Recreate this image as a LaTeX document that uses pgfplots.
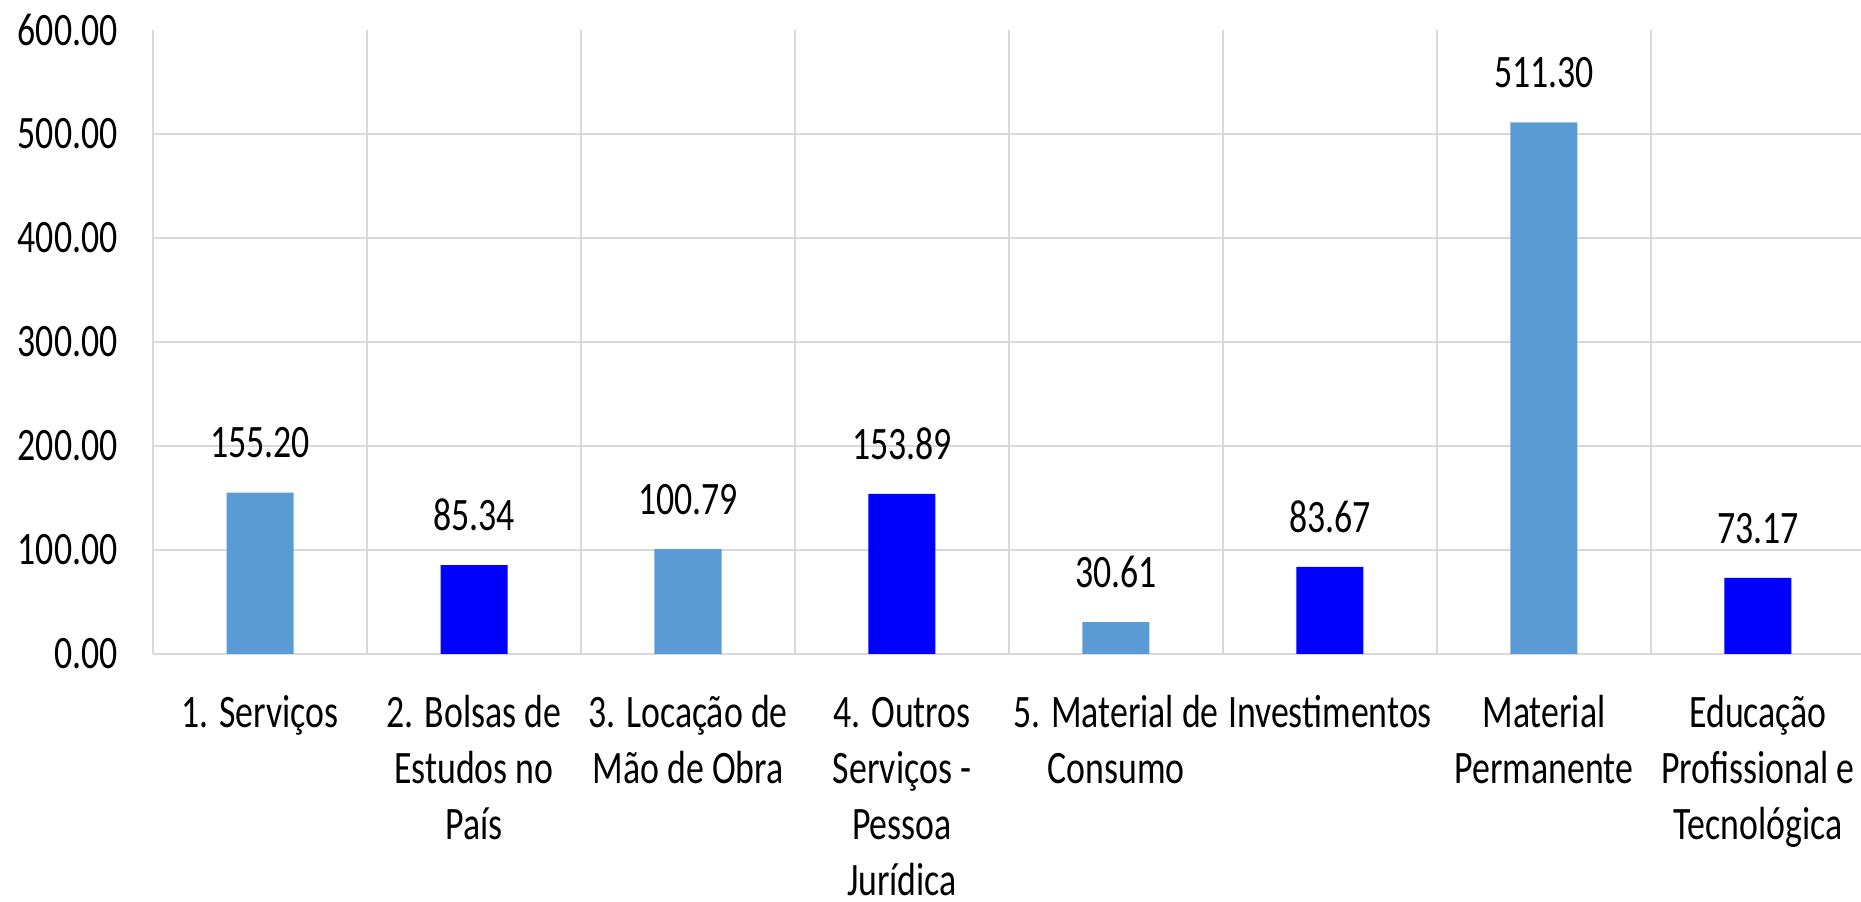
\documentclass[border=0pt]{standalone}
\usepackage{fontspec}
\setmainfont{Carlito}[FakeStretch=0.77]
\usepackage{pgfplots}
\pgfplotsset{compat=1.18}
\definecolor{lblue}{HTML}{5B9BD5}
\definecolor{dblue}{HTML}{0000FF}
\definecolor{gridc}{HTML}{D9D9D9}
\newcommand{\lblfont}{\fontsize{18.6}{22.4}\selectfont}
\begin{document}
\begin{tikzpicture}
\path[use as bounding box] (0,0) rectangle (744.4pt,360.8pt);
\begin{axis}[
    at={(61.2pt,99.2pt)}, anchor=south west,
    scale only axis, width=684.8pt, height=249.6pt,
    ybar, bar width=26.8pt, bar shift=0pt,
    xmin=0.5, xmax=8.5, ymin=0, ymax=600,
    clip=false,
    axis line style={draw=none},
    major tick length=0pt, minor tick length=0pt,
    xtick={1,...,8},
    minor xtick={0.5,1.5,...,8.5},
    xminorgrids, ymajorgrids,
    grid style={gridc, line width=0.8pt},
    minor grid style={gridc, line width=0.8pt},
    ytick={0,100,...,500},
    extra y ticks={600}, extra y tick style={grid=none},
    /pgf/number format/assume math mode=true,
    yticklabel style={font=\lblfont, anchor=east, inner sep=0pt, xshift=-14pt,
        /pgf/number format/fixed, /pgf/number format/fixed zerofill,
        /pgf/number format/precision=2},
    xticklabel style={font=\lblfont, anchor=north, inner sep=0pt, yshift=-13.5pt, align=center},
    xticklabels={
        \strut 1. Serviços,
        \strut 2. Bolsas de\\Estudos no\\País,
        \strut 3. Locação de\\Mão de Obra,
        \strut 4. Outros\\Serviços -\\Pessoa\\Jurídica,
        \strut 5. Material de\\Consumo,
        \strut Investimentos,
        \strut Material\\Permanente,
        \strut Educação\\Profissional e\\Tecnológica},
    nodes near coords={\pgfmathprintnumber[fixed,fixed zerofill,precision=2,assume math mode=true]{\pgfplotspointmeta}},
    every node near coord/.append style={font=\lblfont, black, anchor=south, inner sep=0pt, yshift=13.6pt},
]
\addplot[fill=lblue, draw=none] coordinates {
    (1,155.20) (3,100.79) (5,30.61) (7,511.30)
};
\addplot[fill=dblue, draw=none] coordinates {
    (2,85.34) (4,153.89) (6,83.67) (8,73.17)
};
\end{axis}
\end{tikzpicture}
\end{document}
